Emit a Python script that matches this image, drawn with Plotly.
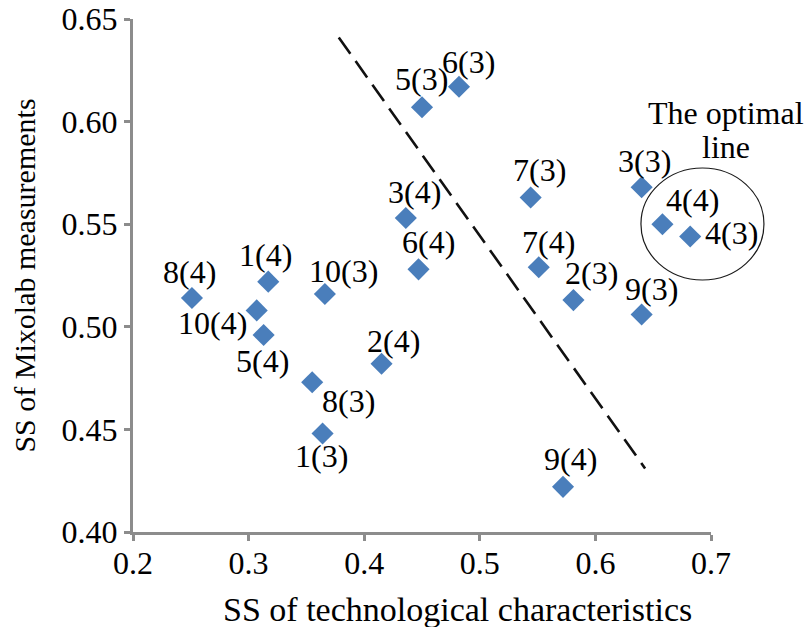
import plotly.graph_objects as go

# ---- data ----
labels = ["8(4)", "10(4)", "1(4)", "5(4)", "10(3)", "8(3)", "1(3)", "2(4)",
          "3(4)", "6(4)", "5(3)", "6(3)", "7(3)", "7(4)", "2(3)", "3(3)",
          "4(4)", "4(3)", "9(3)", "9(4)"]
ss_tech = [0.251, 0.307, 0.317, 0.313, 0.366, 0.355, 0.364, 0.415,
           0.436, 0.447, 0.450, 0.482, 0.544, 0.551, 0.581, 0.640,
           0.658, 0.682, 0.640, 0.572]
ss_mixolab = [0.514, 0.508, 0.522, 0.496, 0.516, 0.473, 0.448, 0.482,
              0.553, 0.528, 0.607, 0.617, 0.563, 0.529, 0.513, 0.568,
              0.550, 0.544, 0.506, 0.422]

divider_x = [0.378, 0.643]
divider_y = [0.641, 0.431]

x_ticks = [0.2, 0.3, 0.4, 0.5, 0.6, 0.7]
y_ticks = [0.40, 0.45, 0.50, 0.55, 0.60, 0.65]
x_range = [0.2, 0.7]
y_range = [0.40, 0.65]

x_title = "SS of technological characteristics"
y_title = "SS of Mixolab measurements"

# optimal region ellipse (data units) and its caption
opt_x = [0.6394, 0.7458]
opt_y = [0.5774, 0.5228]
opt_caption = ["The optimal", "line"]
opt_caption_x = [0.713, 0.713]
opt_caption_y = [0.6042, 0.5876]

# ---- label offsets (pixels: dx right, dy up) ----
label_offsets = {
    "8(4)": (-2, 26), "10(4)": (-44, -13), "1(4)": (-3, 27), "5(4)": (-1, -26),
    "10(3)": (19, 23), "8(3)": (36, -19), "1(3)": (-1, -22), "2(4)": (12, 23),
    "3(4)": (9, 26), "6(4)": (10, 27), "5(3)": (-1, 28), "6(3)": (10, 25),
    "7(3)": (9, 28), "7(4)": (10, 25), "2(3)": (18, 27), "3(3)": (3, 26),
    "4(4)": (30, 24), "4(3)": (41, 4), "9(3)": (10, 25), "9(4)": (7, 28),
}

FONT = "Liberation Serif"
AXIS_COLOR = "#8c8c8c"

fig = go.Figure()

fig.add_trace(go.Scatter(
    x=divider_x, y=divider_y, mode="lines",
    line=dict(color="#111111", width=2.6, dash="20px,9px"),
    hoverinfo="skip", showlegend=False,
))

fig.add_trace(go.Scatter(
    x=ss_tech, y=ss_mixolab, mode="markers",
    marker=dict(symbol="diamond", size=17, color="#4a7ebb"),
    text=labels, showlegend=False,
))

annotations = []
for lab, xv, yv in zip(labels, ss_tech, ss_mixolab):
    dx, dy = label_offsets[lab]
    annotations.append(dict(
        x=xv, y=yv, xref="x", yref="y", text=lab, showarrow=False,
        xanchor="center", yanchor="middle",
        xshift=dx, yshift=dy, font=dict(family=FONT, size=32, color="black"),
    ))

def to_paper(v, rng):
    return (v - rng[0]) / (rng[1] - rng[0])

for txt, cx, cy in zip(opt_caption, opt_caption_x, opt_caption_y):
    annotations.append(dict(
        x=to_paper(cx, x_range), y=to_paper(cy, y_range),
        xref="paper", yref="paper", text=txt, showarrow=False,
        xanchor="center", yanchor="middle",
        font=dict(family=FONT, size=32, color="black"),
    ))

# x-axis title (placed slightly right of centre, as in the original)
annotations.append(dict(
    x=0.5606, y=-0.152, xref="paper", yref="paper", text=x_title,
    showarrow=False, xanchor="center", yanchor="middle",
    font=dict(family=FONT, size=34, color="black"),
))

fig.add_shape(
    type="circle", xref="paper", yref="paper",
    x0=to_paper(opt_x[0], x_range), x1=to_paper(opt_x[1], x_range),
    y0=to_paper(opt_y[1], y_range), y1=to_paper(opt_y[0], y_range),
    line=dict(color="#1a1a1a", width=1.2),
)

fig.update_layout(
    width=811, height=627,
    margin=dict(l=133, r=100, t=19, b=95),
    paper_bgcolor="white", plot_bgcolor="white",
    font=dict(family=FONT, color="black"),
    annotations=annotations,
    xaxis=dict(
        range=x_range, tickvals=x_ticks, ticktext=[f"{v:.1f}" for v in x_ticks],
        showgrid=False, zeroline=False, showline=True, linecolor=AXIS_COLOR,
        linewidth=3, ticks="outside", tickcolor=AXIS_COLOR, tickwidth=3, ticklen=6,
        tickfont=dict(family=FONT, size=32, color="black"), automargin=False,
        ticklabelstandoff=-5,
    ),
    yaxis=dict(
        range=y_range, tickvals=y_ticks, ticktext=[f"{v:.2f}" for v in y_ticks],
        showgrid=False, zeroline=False, showline=True, linecolor=AXIS_COLOR,
        linewidth=3, ticks="outside", tickcolor=AXIS_COLOR, tickwidth=3, ticklen=6,
        tickfont=dict(family=FONT, size=32, color="black"), automargin=False,
        title=dict(text=y_title,
                   font=dict(family=FONT, size=30, color="black"), standoff=18),
    ),
)

fig.write_html("out.html", post_script="document.body.style.margin='0';",
               config={"displayModeBar": False})
